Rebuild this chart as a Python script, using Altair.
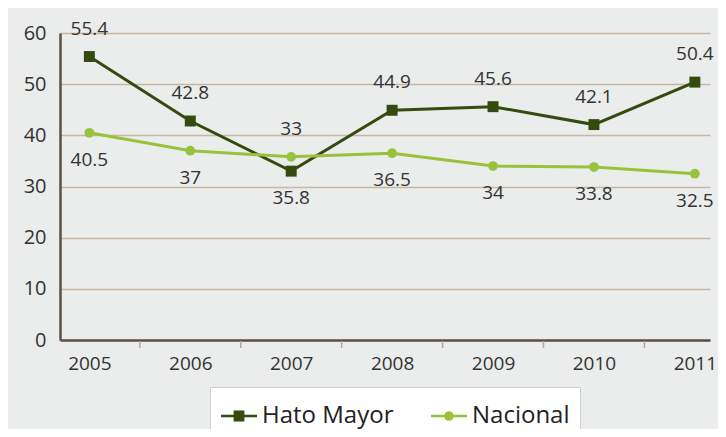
import altair as alt
import pandas as pd

# ---- data ----
years = [2005, 2006, 2007, 2008, 2009, 2010, 2011]
hato_mayor = [55.4, 42.8, 33.0, 44.9, 45.6, 42.1, 50.4]
nacional = [40.5, 37.0, 35.8, 36.5, 34.0, 33.8, 32.5]
series_names = ["Hato Mayor", "Nacional"]
series_colors = ["#344a0e", "#98c23c"]
series_shapes = ["square", "circle"]
y_ticks = [0, 10, 20, 30, 40, 50, 60]

FONT = "Open Sans"
TXT = "#333333"
BROWN = "#5e4e47"
TAN = "#c6b6a2"

rows = []
for i, yr in enumerate(years):
    hi = max(hato_mayor[i], nacional[i])
    lo = min(hato_mayor[i], nacional[i])
    rows.append(dict(year=yr, series=series_names[0], value=hato_mayor[i],
                     label=f"{hato_mayor[i]:g}", anchor=hi))
    rows.append(dict(year=yr, series=series_names[1], value=nacional[i],
                     label=f"{nacional[i]:g}", anchor=lo))
df = pd.DataFrame(rows)
ticks_df = pd.DataFrame({"mid": [y + 0.5 for y in years[:-1]]})

x_scale = alt.Scale(domain=[years[0] - 0.291, years[-1] + 0.15], nice=False, zero=False)
y_scale = alt.Scale(domain=[y_ticks[0], y_ticks[-1]], nice=False)
color_scale = alt.Scale(domain=series_names, range=series_colors)

x_enc = alt.X("year:Q", scale=x_scale, axis=alt.Axis(
    values=years, format="d", title=None, ticks=False, tickSize=0, grid=False,
    domainColor=BROWN, domainWidth=2.5, labelFont=FONT, labelFontSize=19,
    labelColor=TXT, labelPadding=14))
y_enc = alt.Y("value:Q", scale=y_scale, axis=alt.Axis(
    values=y_ticks, title=None, ticks=False, tickSize=0, grid=True,
    gridColor=TAN, gridWidth=1.5, domainColor=BROWN, domainWidth=2.5,
    labelFont=FONT, labelFontSize=20, labelColor=TXT, labelPadding=14))

base = alt.Chart(df)

layers = []
for i, name in enumerate(series_names):
    sub = base.transform_filter(alt.datum.series == name)
    layers.append(sub.mark_line(strokeWidth=3, color=series_colors[i]).encode(
        x=x_enc, y=y_enc, order=alt.Order("year:Q")))

point_layers = []
for i, name in enumerate(series_names):
    sub = base.transform_filter(alt.datum.series == name)
    point_layers.append(sub.mark_point(
        filled=True, opacity=1, size=120 if i == 0 else 95, shape=series_shapes[i],
        color=series_colors[i]).encode(x="year:Q", y="value:Q"))

tick_marks = alt.Chart(ticks_df).mark_rule(color="#b9a892", strokeWidth=1.5, yOffset=1, y2Offset=8).encode(
    x="mid:Q", y=alt.datum(0), y2=alt.datum(0)
)

hato_labels = base.transform_filter(alt.datum.series == series_names[0]).mark_text(
    dy=-28, font=FONT, fontSize=19, color=TXT).encode(
    x="year:Q", y="anchor:Q", text="label:N")
nac_labels = base.transform_filter(alt.datum.series == series_names[1]).mark_text(
    dy=27, font=FONT, fontSize=19, color=TXT).encode(
    x="year:Q", y="anchor:Q", text="label:N")

# legend-only layer: line + marker symbols
sq_path = "M-1,-0.075H1V0.075H-1Z M-0.3,-0.3H0.3V0.3H-0.3Z"
ci_path = "M-1,-0.075H1V0.075H-1Z M-0.27,0A0.27,0.27 0 1,1 0.27,0A0.27,0.27 0 1,1 -0.27,0Z"
leg = alt.Legend(
    title=None, orient="none", legendX=150, legendY=354, direction="horizontal",
    labelFont=FONT, labelFontSize=24, labelColor="#222222", symbolSize=1296,
    labelOffset=4, columnPadding=34, padding=10, fillColor="white",
    strokeColor="#d0d0d0", symbolOpacity=1)
legend_layer = base.transform_filter("false").mark_point(filled=True, opacity=1).encode(
    x="year:Q", y="value:Q",
    color=alt.Color("series:N", scale=color_scale, legend=leg),
    shape=alt.Shape("series:N", scale=alt.Scale(domain=series_names, range=[sq_path, ci_path]), legend=leg),
)

chart = alt.layer(
    *layers, tick_marks, *point_layers, hato_labels, nac_labels, legend_layer
).properties(
    width=650, height=307,
    padding={"left": 52, "top": 25, "right": 8, "bottom": 89},
    autosize=alt.AutoSizeParams(type="none"),
    background="#ebecec",
).configure_view(stroke=None)

chart.save("out.html", embed_options={"renderer": "svg", "actions": False})
